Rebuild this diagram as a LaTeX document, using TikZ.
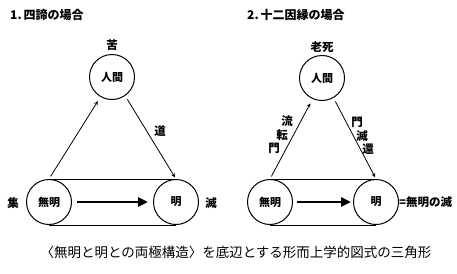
\documentclass[tikz,border=0pt]{standalone}
\usepackage{fontspec}
\setmainfont{Noto Sans CJK JP}
\usetikzlibrary{arrows.meta}
\begin{document}
\begin{tikzpicture}[x=1pt,y=1pt,>=stealth,
  circ/.style={draw,line width=1pt,circle,minimum size=45pt,inner sep=0pt,font=\fontsize{11}{11}\selectfont\bfseries},
  lbl/.style={font=\fontsize{11.5}{11.5}\selectfont\bfseries,inner sep=0pt},
  ttl/.style={anchor=west,inner sep=0pt,font=\fontsize{12}{12}\selectfont\bfseries},
  big/.style={line width=2.8pt,-{Triangle[length=10pt,width=9pt]}}]
  \useasboundingbox (0,0) rectangle (457,-273);
  % 1. left triangle
  \node[ttl] (title1) at (10,-15) {1.\,四諦の場合};
  \node[circ] (ningen) at (112,-77) {人間};
  \node[circ] (mumyo) at (49,-202) {無明};
  \node[circ] (myo) at (176,-202) {明};
  \node[lbl] (ku) at (112,-45) {苦};
  \node[lbl] (shu) at (13,-203) {集};
  \node[lbl] (metsu) at (211,-203) {滅};
  \node[lbl] (do) at (160,-131) {道};
  \draw[line width=1pt] (mumyo.north) -- (myo.north) (mumyo.south) -- (myo.south);
  \draw[->,thick,shorten <=3pt,shorten >=5pt] (mumyo.north) -- (ningen.240);
  \draw[->,thick,shorten <=4pt,shorten >=2pt] (ningen.305) -- (myo.north);
  \draw[big,shorten <=5pt,shorten >=5pt] (mumyo.east) -- (myo.west);
  % 2. right triangle
  \node[ttl] (title2) at (247,-15) {2.\,十二因縁の場合};
  \node[circ] (ningenB) at (322,-78) {人間};
  \node[circ] (mumyoB) at (270,-202) {無明};
  \node[circ] (myoB) at (376,-202) {明};
  \node[lbl] (roshi) at (322,-47) {老死};
  \node[lbl,anchor=west] (eq) at (myoB.east) {=無明の滅};
  \node[lbl] (ru) at (287,-121) {流};
  \node[lbl] (ten) at (282,-135) {転};
  \node[lbl] (mon) at (274,-148) {門};
  \node[lbl] (monB) at (357,-122) {門};
  \node[lbl] (metsuB) at (362,-136) {滅};
  \node[lbl] (gen) at (368,-149) {還};
  \draw[line width=1pt] (mumyoB.north) -- (myoB.north) (mumyoB.south) -- (myoB.south);
  \draw[->,thick,shorten <=3pt,shorten >=5pt] (mumyoB.north) -- (ningenB.246);
  \draw[->,thick,shorten <=4pt,shorten >=2pt] (ningenB.300) -- (myoB.north);
  \draw[big,shorten <=4pt,shorten >=2pt] (mumyoB.east) -- (myoB.west);
  % caption
  \node[lbl,font=\fontsize{13.5}{13.5}\selectfont] (cap) at (236,-252) {〈無明と明との両極構造〉を底辺とする形而上学的図式の三角形};
\end{tikzpicture}
\end{document}
